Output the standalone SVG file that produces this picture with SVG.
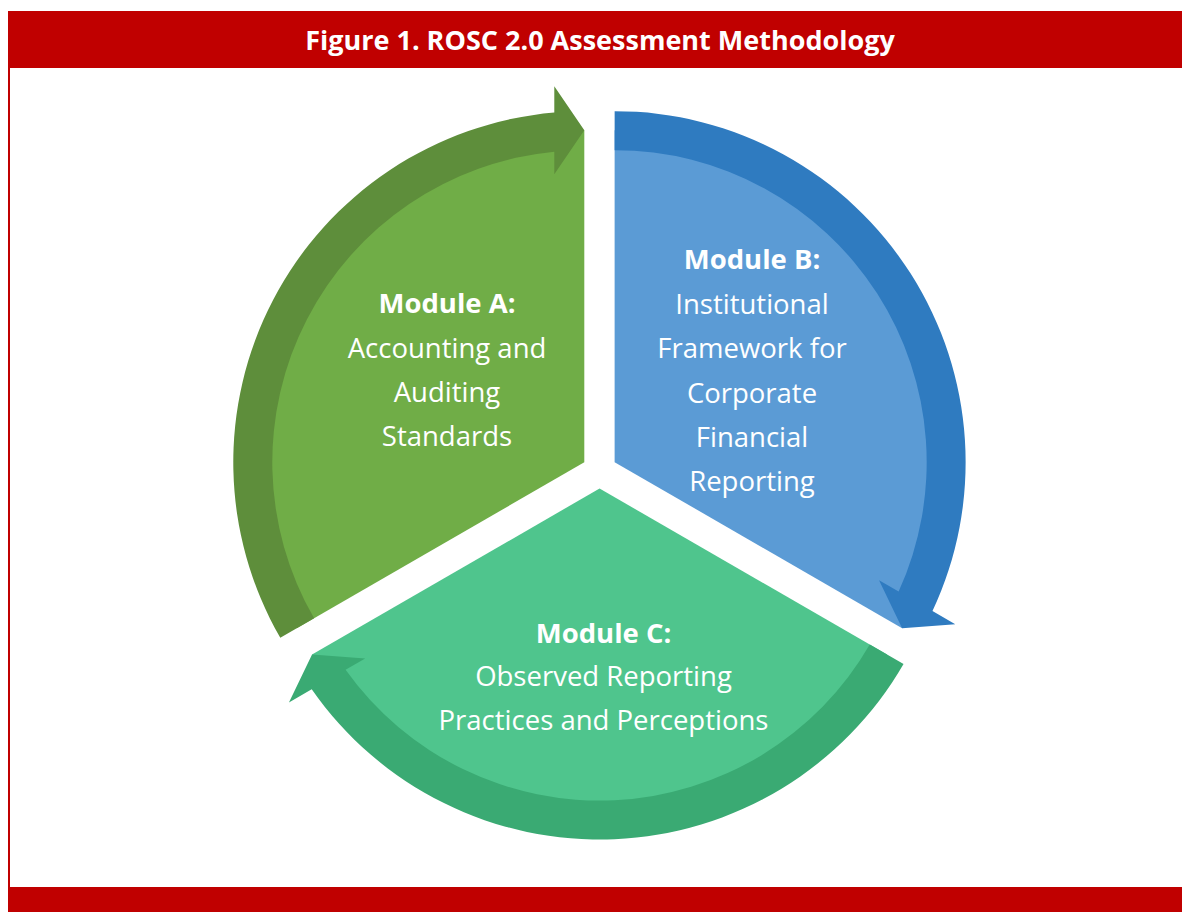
<svg xmlns="http://www.w3.org/2000/svg" width="1182" height="912" viewBox="0 0 1182 912">
  <style>
    .title { font-family: "Open Sans", "Liberation Sans", sans-serif; font-weight: bold; font-size: 27px; fill: #ffffff; text-anchor: middle; }
    .lbl { font-family: "Open Sans", "Liberation Sans", sans-serif; font-size: 27.5px; fill: #ffffff; text-anchor: middle; }
    .hd { font-weight: bold; }
    .aL { fill: #70AD47; } .aD { fill: #5E8E3B; }
    .bL { fill: #5B9BD5; } .bD { fill: #2F7BC0; }
    .cL { fill: #4FC58D; } .cD { fill: #3AAA73; }
  </style>
  <defs>
    <path id="pie" d="M0,0 L-287.5,166 A332,332 0 0,1 0,-332 Z"/>
    <path id="arr" d="M-270.2,156 L-304,175.5 A351,351 0 0,1 -30,-349.7 L-30,-376 L0,-332 L-30,-288 L-30,-310.6 A312,312 0 0,0 -270.2,156 Z"/>
  </defs>
  <rect x="0" y="0" width="1182" height="912" fill="#ffffff"/>
  <g id="frame">
    <rect x="8" y="11" width="1174" height="57" fill="#C00000"/>
    <rect x="8" y="11" width="2" height="901" fill="#C00000"/>
    <rect x="8" y="887" width="1174" height="25" fill="#C00000"/>
    <text class="title" x="600" y="50">Figure 1. ROSC 2.0 Assessment Methodology</text>
  </g>
  <g id="moduleA">
    <g transform="translate(584.3,462.3)">
      <use href="#pie" class="aL"/>
      <use href="#arr" class="aD"/>
    </g>
    <text class="lbl hd" x="447" y="313">Module A:</text>
    <text class="lbl" x="447" y="358">Accounting and</text>
    <text class="lbl" x="447" y="402">Auditing</text>
    <text class="lbl" x="447" y="446">Standards</text>
  </g>
  <g id="moduleB">
    <g transform="rotate(120,599.5,471) translate(584.3,462.3)">
      <use href="#pie" class="bL"/>
      <use href="#arr" class="bD"/>
    </g>
    <text class="lbl hd" x="752" y="269">Module B:</text>
    <text class="lbl" x="752" y="314">Institutional</text>
    <text class="lbl" x="752" y="358">Framework for</text>
    <text class="lbl" x="752" y="403">Corporate</text>
    <text class="lbl" x="752" y="447">Financial</text>
    <text class="lbl" x="752" y="491">Reporting</text>
  </g>
  <g id="moduleC">
    <g transform="rotate(240,599.5,471) translate(584.3,462.3)">
      <use href="#pie" class="cL"/>
      <use href="#arr" class="cD"/>
    </g>
    <text class="lbl hd" x="603.5" y="643">Module C:</text>
    <text class="lbl" x="603.5" y="686">Observed Reporting</text>
    <text class="lbl" x="603.5" y="730">Practices and Perceptions</text>
  </g>
  <g id="connectors"></g>
</svg>
